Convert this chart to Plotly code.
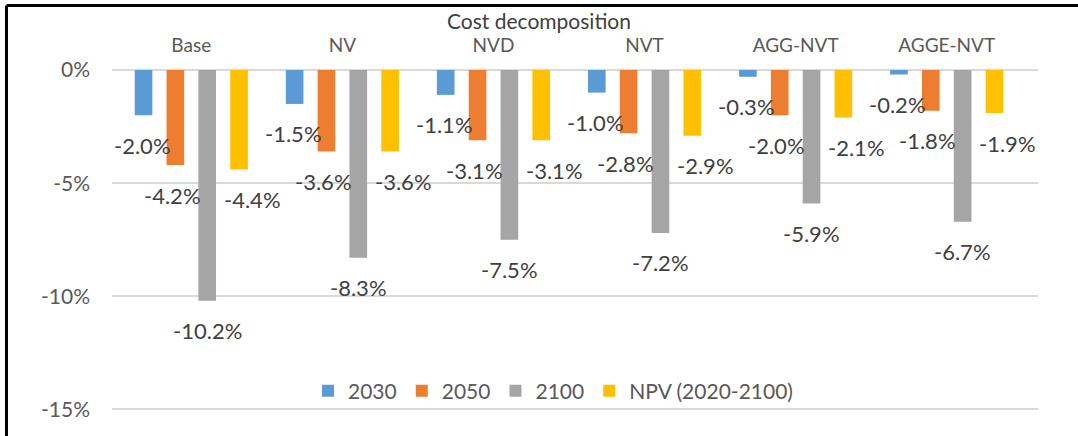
import plotly.graph_objects as go

categories = ["Base", "NV", "NVD", "NVT", "AGG-NVT", "AGGE-NVT"]
series_names = ["2030", "2050", "2100", "NPV (2020-2100)"]
v2030 = [-2.0, -1.5, -1.1, -1.0, -0.3, -0.2]
v2050 = [-4.2, -3.6, -3.1, -2.8, -2.0, -1.8]
v2100 = [-10.2, -8.3, -7.5, -7.2, -5.9, -6.7]
vnpv = [-4.4, -3.6, -3.1, -2.9, -2.1, -1.9]
colors = ["#5B9BD5", "#ED7D31", "#A5A5A5", "#FFC000"]
tick_vals = [0, -5, -10, -15]
tick_text = ["0%", "-5%", "-10%", "-15%"]

W, H = 1078, 436
Y_MIN = -15.2
ML, MR, MT = 112, 40, 70
PH = round(339 * (-Y_MIN) / 15)
MB = H - MT - PH
PW = W - ML - MR
BARGAP = 0.157
FONT = "Lato, 'Open Sans', sans-serif"

fig = go.Figure()
all_vals = [v2030, v2050, v2100, vnpv]
for name, vals, col in zip(series_names, all_vals, colors):
    fig.add_trace(go.Bar(x=categories, y=vals, name=name, marker_color=col,
                         marker_line_width=0))

slot = PW / len(categories) * (1 - BARGAP) / 4
extra = [0, -3, 0, 12]
for k, vals in enumerate(all_vals):
    for c, v in zip(categories, vals):
        fig.add_annotation(x=c, y=v, xref="x", yref="y", text=f"{v:.1f}%",
                           showarrow=False, xshift=(k - 1.5) * slot + extra[k],
                           yshift=-30, font=dict(family=FONT, size=22, color="#404040"))

def px_x(p):
    return (p - ML) / PW

def px_y(p):
    return (H - MB - p) / PH

# outer chart frame (partially visible)
fig.add_shape(type="line", xref="paper", yref="paper", x0=px_x(6.5), x1=px_x(6.5),
              y0=px_y(5.5), y1=px_y(H + 5), line=dict(color="black", width=3))
fig.add_shape(type="line", xref="paper", yref="paper", x0=px_x(6.5), x1=px_x(W + 5),
              y0=px_y(5.5), y1=px_y(5.5), line=dict(color="black", width=3))

fig.update_layout(
    width=W, height=H,
    margin=dict(l=ML, r=MR, t=MT, b=MB, autoexpand=False),
    paper_bgcolor="white", plot_bgcolor="white",
    barmode="group", bargap=BARGAP, bargroupgap=0.446,
    title=dict(text="Cost decomposition", x=0.5, xanchor="center", y=1 - 22 / H,
               yanchor="middle", yref="container",
               font=dict(family=FONT, size=21, color="#404040")),
    font=dict(family=FONT, color="#595959"),
    showlegend=True,
    legend=dict(orientation="h", x=px_x(308), y=px_y(391), xanchor="left", yanchor="middle",
                font=dict(family=FONT, size=21, color="#595959"), bgcolor="rgba(0,0,0,0)",
                itemwidth=30, traceorder="normal"),
    xaxis=dict(side="top", showgrid=False, showline=False, ticks="", automargin=False,
               tickfont=dict(family=FONT, size=19, color="#595959"), ticklabelstandoff=13),
    yaxis=dict(range=[Y_MIN, 0], tickvals=tick_vals, ticktext=tick_text, automargin=False,
               showgrid=True, gridcolor="#D9D9D9", gridwidth=2,
               zeroline=True, zerolinecolor="#D9D9D9", zerolinewidth=2,
               showline=False, ticks="", ticklabelstandoff=21,
               tickfont=dict(family=FONT, size=21, color="#595959")),
)

fig.write_html("out.html", config={"displayModeBar": False},
               post_script="document.body.style.margin='0';document.body.style.overflow='hidden';")
